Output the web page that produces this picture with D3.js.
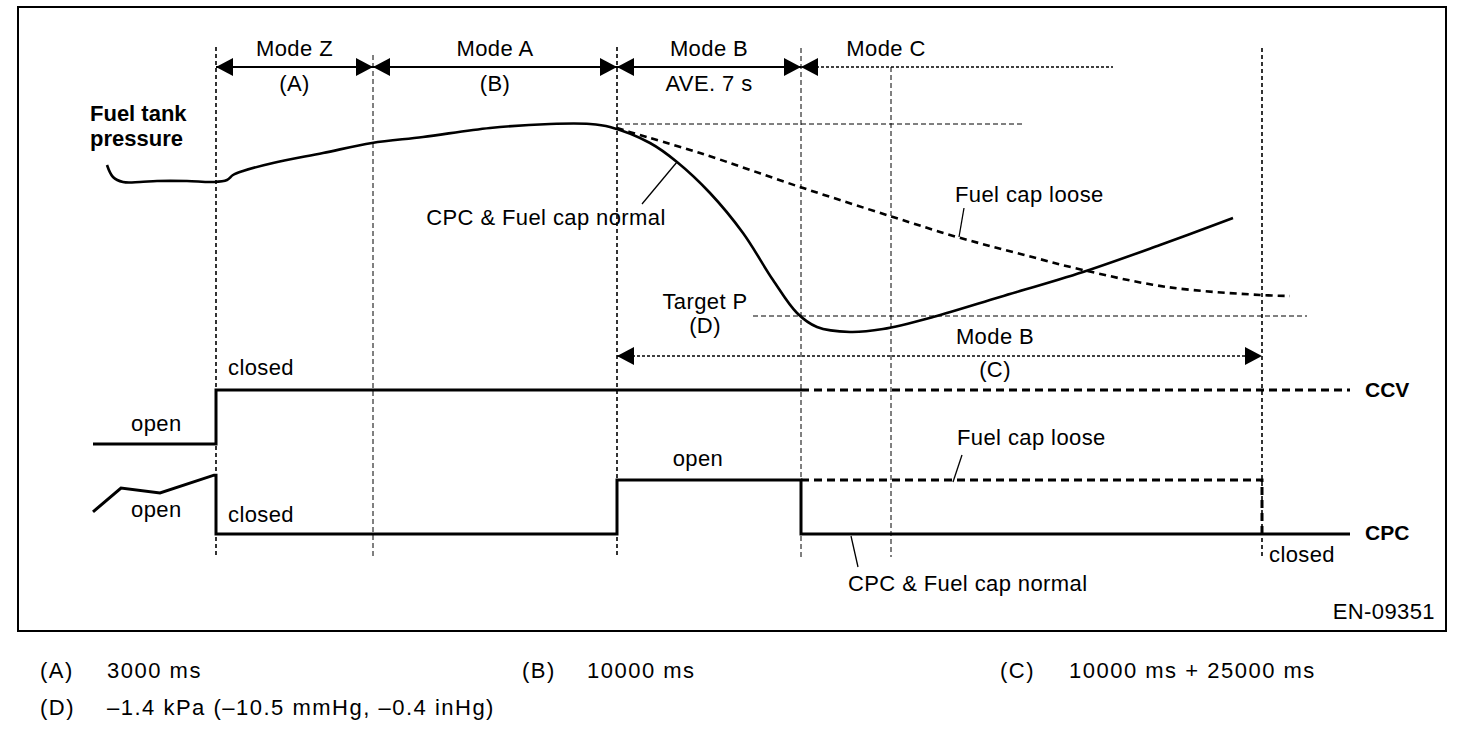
<!DOCTYPE html>
<html><head><meta charset="utf-8">
<script src="https://cdn.jsdelivr.net/npm/d3@7"></script>
<style>
body{margin:0;background:#fff}
svg text{font-family:"Liberation Sans",Arial,sans-serif;font-size:22px;letter-spacing:0.4px;fill:#000}
svg text.note{letter-spacing:1.5px}
svg text.lab{font-size:21px;letter-spacing:0}
</style></head><body>
<svg id="c" width="1472" height="732"></svg>
<script>
// ---------- DATA (time t in arbitrary units, pressure p in arbitrary units) ----------
const modeNames = ["Mode Z", "Mode A", "Mode B", "Mode C"];
const modeSubs = ["(A)", "(B)", "AVE. 7 s"];
const modeBounds = [123, 280, 524, 708, 1020];
const markerTimes = [123, 280, 524, 708, 798, 1169];
const pressureNormal = [[14,185],[20,173],[30,168],[47,168],[64,169],[94,169],[120,168],[134,170],[140,175],[150,179],[180,187],[230,197],[279,207],[330,213],[397,222],[457,226],[497,226],[517,223],[557,207],[584,188],[617,157],[650,117],[680,70],[704,37],[724,23],[757,18],[790,21],[840,33],[907,53],[990,78],[1067,105],[1140,132]];
const pressureLoose = [[524,222],[540,217],[607,197],[707,163],[800,133],[864,113],[924,97],[990,80],[1074,63],[1167,55],[1197,54]];
const peakLevel = 226, targetLevel = 34;
const peakLineSpan = [524, 930], targetLineSpan = [660, 1214];
const modeBSpan = [524, 1169];
const ccvSolid = [[0,0],[123,0],[123,1],[708,1]];
const ccvDashed = [[708,1],[1257,1]];
const cpcNormal = [[0,0.41],[28,0.85],[67,0.76],[121,1.09],[123,1.09],[123,0],[524,0],[524,1],[708,1],[708,0],[1257,0]];
const cpcLoose = [[708,1],[1169,1],[1169,0]];
const noteKeys = ["(A)", "(B)", "(C)", "(D)"];
const noteValues = ["3000 ms", "10000 ms", "10000 ms + 25000 ms", "\u20131.4 kPa (\u201310.5 mmHg, \u20130.4 inHg)"];

// ---------- SCALES ----------
const svg = d3.select("#c");
const x = d3.scaleLinear().domain([0, 1257]).range([93, 1350]);
const y = d3.scaleLinear().domain([0, 250]).range([350, 100]);
const sig = d3.scaleLinear().domain([0, 1]).range([0, -54]);
const ccvBase = 444, cpcBase = 534;

// frame
svg.append("rect").attr("x",18).attr("y",7).attr("width",1428).attr("height",624)
  .attr("fill","none").attr("stroke","#000").attr("stroke-width",2);

// vertical marker lines
const markerTop = [47, 55, 47, 48, 67, 48];
const markerStyle = [[1.6,"4,3"],[1,"5,3"],[1.6,"4,3"],[1,"5,3"],[1,"5,3"],[1.6,"4,3"]];
markerTimes.forEach((t,i)=>{
  svg.append("line").attr("x1",x(t)).attr("x2",x(t)).attr("y1",markerTop[i]).attr("y2",557)
    .attr("stroke","#000").attr("stroke-width",markerStyle[i][0]).attr("stroke-dasharray",markerStyle[i][1]);
});

// reference horizontal lines
svg.append("line").attr("x1",x(peakLineSpan[0])).attr("x2",x(peakLineSpan[1]))
  .attr("y1",y(peakLevel)).attr("y2",y(peakLevel)).attr("stroke","#000").attr("stroke-width",1).attr("stroke-dasharray","5,3");
svg.append("line").attr("x1",x(targetLineSpan[0])).attr("x2",x(targetLineSpan[1]))
  .attr("y1",y(targetLevel)).attr("y2",y(targetLevel)).attr("stroke","#000").attr("stroke-width",1).attr("stroke-dasharray","5,3");

// arrowheads
function head(px, py, dir){
  const L=17, H=9;
  svg.append("path").attr("d",`M${px},${py}L${px-dir*L},${py-H}L${px-dir*L},${py+H}Z`).attr("fill","#000");
}
const arrowY = 67;
for(let i=0;i<3;i++){
  const a=x(modeBounds[i]), b=x(modeBounds[i+1]);
  svg.append("line").attr("x1",a).attr("x2",b).attr("y1",arrowY).attr("y2",arrowY).attr("stroke","#000").attr("stroke-width",2);
  head(a,arrowY,-1); head(b,arrowY,1);
  const cx=(a+b)/2;
  svg.append("text").attr("x",cx).attr("y",56).attr("text-anchor","middle").text(modeNames[i]);
  svg.append("text").attr("x",cx).attr("y",91).attr("text-anchor","middle").text(modeSubs[i]);
}
// Mode C
svg.append("line").attr("x1",x(modeBounds[3])).attr("x2",x(modeBounds[4])).attr("y1",arrowY).attr("y2",arrowY)
  .attr("stroke","#000").attr("stroke-width",1.3).attr("stroke-dasharray","3,2");
head(x(modeBounds[3]),arrowY,-1);
svg.append("text").attr("x",886).attr("y",56).attr("text-anchor","middle").text(modeNames[3]);

// pressure curves
const line = d3.line().x(d=>x(d[0])).y(d=>y(d[1])).curve(d3.curveCatmullRom.alpha(0.5));
svg.append("path").attr("d",line(pressureNormal)).attr("fill","none").attr("stroke","#000").attr("stroke-width",2.6);
svg.append("path").attr("d",line(pressureLoose)).attr("fill","none").attr("stroke","#000").attr("stroke-width",2.6).attr("stroke-dasharray","7,5");

// lower Mode B arrow
const lowY = 356;
svg.append("line").attr("x1",x(modeBSpan[0])).attr("x2",x(modeBSpan[1])).attr("y1",lowY).attr("y2",lowY)
  .attr("stroke","#000").attr("stroke-width",1.3).attr("stroke-dasharray","3,2");
head(x(modeBSpan[0]),lowY,-1); head(x(modeBSpan[1]),lowY,1);
svg.append("text").attr("x",995).attr("y",344).attr("text-anchor","middle").text("Mode B");
svg.append("text").attr("x",995).attr("y",377).attr("text-anchor","middle").text("(C)");

// signals
const sl = (base)=>d3.line().x(d=>x(d[0])).y(d=>base+sig(d[1]));
svg.append("path").attr("d",sl(ccvBase)(ccvSolid)).attr("fill","none").attr("stroke","#000").attr("stroke-width",3);
svg.append("path").attr("d",sl(ccvBase)(ccvDashed)).attr("fill","none").attr("stroke","#000").attr("stroke-width",3).attr("stroke-dasharray","8,5");
svg.append("path").attr("d",sl(cpcBase)(cpcNormal)).attr("fill","none").attr("stroke","#000").attr("stroke-width",3);
svg.append("path").attr("d",sl(cpcBase)(cpcLoose)).attr("fill","none").attr("stroke","#000").attr("stroke-width",3).attr("stroke-dasharray","8,5");

// leaders
const leaders = [[642,204,677,162],[959,237,964,208],[953,482,962,455],[851,536,858,567]];
leaders.forEach(l=>svg.append("line").attr("x1",l[0]).attr("y1",l[1]).attr("x2",l[2]).attr("y2",l[3]).attr("stroke","#000").attr("stroke-width",1.3));

// texts
const T=(tx,ty,s,anchor,bold,cls)=>{const e=svg.append("text").attr("x",tx).attr("y",ty).attr("text-anchor",anchor||"start").text(s); if(bold) e.attr("font-weight","bold"); if(cls) e.attr("class",cls); return e;};
T(90,121,"Fuel tank","start",true,"lab").style("font-size","22px");
T(90,146,"pressure","start",true,"lab").style("font-size","22px");
T(546,225,"CPC & Fuel cap normal","middle");
T(955,202,"Fuel cap loose");
T(705,309,"Target P","middle");
T(705,333,"(D)","middle");
T(228,375,"closed");
T(131,431,"open");
T(131,517,"open");
T(228,522,"closed");
T(698,466,"open","middle");
T(957,445,"Fuel cap loose");
T(1269,562,"closed");
T(848,591,"CPC & Fuel cap normal");
T(1365,397,"CCV","start",true,"lab");
T(1365,540,"CPC","start",true,"lab");
T(1435,619,"EN-09351","end");

// notes
const noteX=[40,522,1000,40], noteY=[678,678,678,715], valX=[107,587,1069,107];
noteKeys.forEach((k,i)=>{T(noteX[i],noteY[i],k,"start",false,"note"); T(valX[i],noteY[i],noteValues[i],"start",false,"note");});
</script></body></html>
